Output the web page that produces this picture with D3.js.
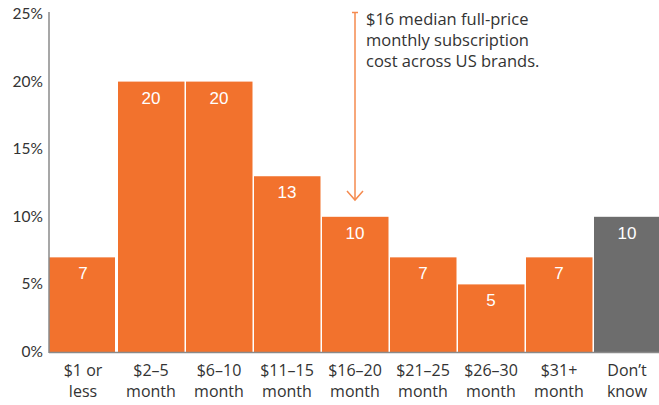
<!DOCTYPE html>
<html>
<head>
<meta charset="utf-8">
<script src="https://cdn.jsdelivr.net/npm/d3@7"></script>
<style>
  body { margin: 0; background: #fff; }
  text { font-family: "Open Sans", "Lato", sans-serif; }
</style>
</head>
<body>
<svg id="chart" width="659" height="405"></svg>
<script>
// data
const categories = [
  ["$1 or", "less"], ["$2\u20135", "month"], ["$6\u201310", "month"], ["$11\u201315", "month"],
  ["$16\u201320", "month"], ["$21\u201325", "month"], ["$26\u201330", "month"], ["$31+", "month"],
  ["Don\u2019t", "know"]
];
const values = [7, 20, 20, 13, 10, 7, 5, 7, 10];
const yTicks = [0, 5, 10, 15, 20, 25];
const noteLines = ["$16 median full-price", "monthly subscription", "cost across US brands."];

const ORANGE = "#f2722d";
const GREY = "#6d6d6d";

const svg = d3.select("#chart");
const mLeft = 49, mRight = 661, mTop = 14, mBottom = 352;

const x = d3.scaleBand().domain(d3.range(values.length)).range([mLeft, mRight]).padding(0);
const y = d3.scaleLinear().domain([0, 25]).range([mBottom, mTop]);

// bars
svg.append("g")
  .selectAll("rect")
  .data(values)
  .join("rect")
  .attr("x", (d, i) => x(i) + (i === 0 ? 0 : 1))
  .attr("y", d => y(d))
  .attr("width", (d, i) => x.bandwidth() - (i === 0 ? 2 : 1.5))
  .attr("height", d => y(0) - y(d))
  .attr("fill", (d, i) => i === values.length - 1 ? GREY : ORANGE);

// value labels
svg.append("g")
  .selectAll("text")
  .data(values)
  .join("text")
  .attr("x", (d, i) => x(i) + x.bandwidth() / 2)
  .attr("y", d => y(d) + 22)
  .attr("text-anchor", "middle")
  .attr("fill", "#fff")
  .attr("font-size", 17)
  .style("font-family", "'Liberation Sans', Arial, sans-serif")
  .text(d => d);

// axes lines
svg.append("line")
  .attr("x1", mLeft).attr("x2", mLeft)
  .attr("y1", y(25) - 2).attr("y2", mBottom + 1)
  .attr("stroke", "#8a8a8a").attr("stroke-width", 1.5);
svg.append("line")
  .attr("x1", mLeft).attr("x2", mRight)
  .attr("y1", mBottom + 0.5).attr("y2", mBottom + 0.5)
  .attr("stroke", "#8a8a8a").attr("stroke-width", 1.5);

// y tick labels
svg.append("g")
  .selectAll("text")
  .data(yTicks)
  .join("text")
  .attr("x", 43)
  .attr("y", d => y(d) + 5)
  .attr("text-anchor", "end")
  .attr("fill", "#333")
  .attr("font-size", 15.5)
  .style("font-family", "Lato, sans-serif")
  .text(d => d + "%");

// x category labels, one text per line
const labelLines = categories.flatMap((lines, i) => lines.map((t, j) => ({ t, i, j })));
svg.append("g")
  .selectAll("text")
  .data(labelLines)
  .join("text")
  .attr("x", d => x(d.i) + x.bandwidth() / 2)
  .attr("y", d => 376 + d.j * 21)
  .attr("text-anchor", "middle")
  .attr("fill", "#333")
  .attr("font-size", 16)
  .text(d => d.t);

// median annotation arrow
const ax = x(4) + 34;
const tipY = 200;
svg.append("line")
  .attr("x1", ax).attr("x2", ax)
  .attr("y1", 12).attr("y2", tipY)
  .attr("stroke", "#f58a4e").attr("stroke-width", 1.5);
svg.append("line")
  .attr("x1", ax - 3).attr("x2", ax + 3)
  .attr("y1", 12.5).attr("y2", 12.5)
  .attr("stroke", "#f58a4e").attr("stroke-width", 1.5);
svg.append("path")
  .attr("d", `M${ax - 8},${tipY - 9} L${ax},${tipY} L${ax + 8},${tipY - 9}`)
  .attr("fill", "none")
  .attr("stroke", "#f58a4e").attr("stroke-width", 1.5);

svg.append("g")
  .selectAll("text")
  .data(noteLines)
  .join("text")
  .attr("x", ax + 11)
  .attr("y", (d, i) => 25 + i * 21)
  .attr("fill", "#333")
  .attr("font-size", 16.5)
  .text(d => d);
</script>
</body>
</html>
